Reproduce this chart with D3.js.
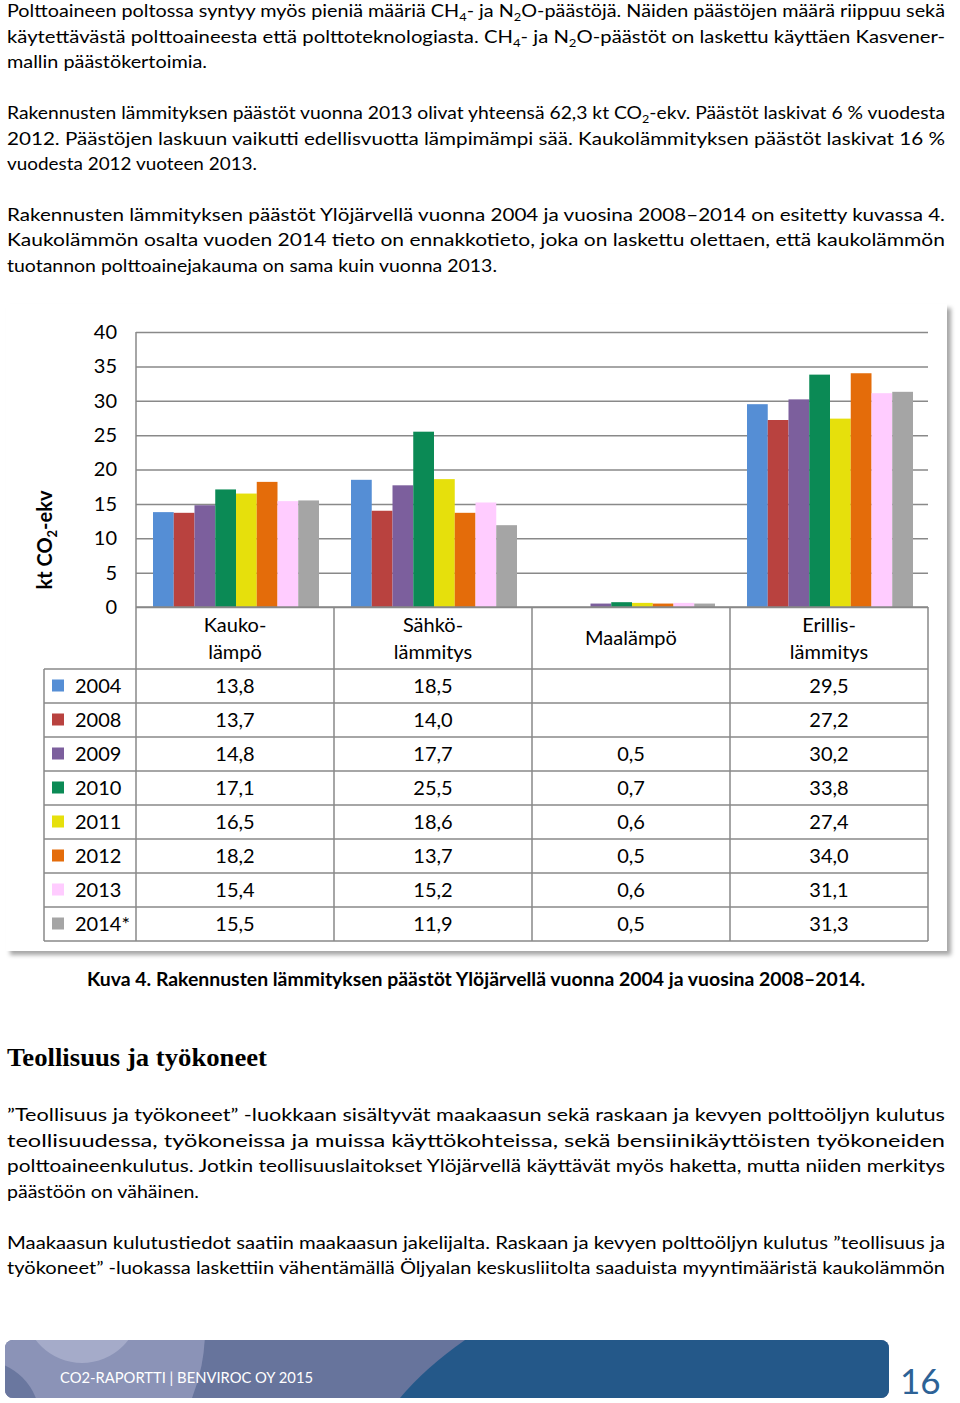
<!DOCTYPE html>
<html>
<head>
<meta charset="utf-8">
<script src="https://cdn.jsdelivr.net/npm/d3@7"></script>
<style>
  body { margin: 0; background: #fff; }
  svg text { font-family: Lato, "Open Sans", sans-serif; fill: #000; }
</style>
</head>
<body>
<div id="page"></div>
<script>
(function(){

// chart data
var categories = ["Kaukolämpö", "Sähkölämmitys", "Maalämpö", "Erillislämmitys"];
var categoryLines = [["Kauko-", "lämpö"], ["Sähkö-", "lämmitys"], ["Maalämpö"], ["Erillis-", "lämmitys"]];
var years = ["2004", "2008", "2009", "2010", "2011", "2012", "2013", "2014*"];
var yearColors = ["#558ED5", "#B9423F", "#7C5F9D", "#0B8A55", "#E6E00C", "#E46C0A", "#FFCCFF", "#A5A5A5"];
var kaukolampo = [13.8, 13.7, 14.8, 17.1, 16.5, 18.2, 15.4, 15.5];
var sahkolammitys = [18.5, 14.0, 17.7, 25.5, 18.6, 13.7, 15.2, 11.9];
var maalampo = [null, null, 0.5, 0.7, 0.6, 0.5, 0.6, 0.5];
var erillislammitys = [29.5, 27.2, 30.2, 33.8, 27.4, 34.0, 31.1, 31.3];
var yTicks = [0, 5, 10, 15, 20, 25, 30, 35, 40];

var seriesByCategory = [kaukolampo, sahkolammitys, maalampo, erillislammitys];

var W = 960, H = 1403;

var svg = d3.select("#page").append("svg")
    .attr("width", W)
    .attr("height", H);

var defs = svg.append("defs");
var shadow = defs.append("filter").attr("id", "shadow")
    .attr("x", "-5%").attr("y", "-5%").attr("width", "110%").attr("height", "110%");
shadow.append("feDropShadow")
    .attr("dx", 4).attr("dy", 4).attr("stdDeviation", 2)
    .attr("flood-color", "#000").attr("flood-opacity", 0.35);

// one line of text; subscripts written as {4}
function textLine(g, str, x, y, width, opts) {
  opts = opts || {};
  var size = opts.size || 18;
  var t = g.append("text")
      .attr("x", x)
      .attr("y", y)
      .attr("font-size", size)
      .attr("font-weight", opts.weight || "normal");
  if (opts.family) t.style("font-family", opts.family);
  var parts = str.split(/(\{[^}]*\})/);
  var back = 0;
  parts.forEach(function(p){
    if (!p) return;
    if (p[0] === "{") {
      t.append("tspan").attr("font-size", size * 0.65).attr("dy", 4).text(p.slice(1, -1));
      back = -4;
    } else {
      var s = t.append("tspan").text(p);
      if (back) { s.attr("dy", back); back = 0; }
    }
  });
  if (width) t.attr("textLength", width).attr("lengthAdjust", "spacingAndGlyphs");
  return t;
}

var body = svg.append("g");
var textLines = [
  ["Polttoaineen poltossa syntyy myös pieniä määriä CH{4}- ja N{2}O-päästöjä. Näiden päästöjen määrä riippuu sekä", 17, 938],
  ["käytettävästä polttoaineesta että polttoteknologiasta. CH{4}- ja N{2}O-päästöt on laskettu käyttäen Kasvener-", 42.5, 938],
  ["mallin päästökertoimia.", 68, 200],
  ["Rakennusten lämmityksen päästöt vuonna 2013 olivat yhteensä 62,3 kt CO{2}-ekv. Päästöt laskivat 6 % vuodesta", 119, 938],
  ["2012. Päästöjen laskuun vaikutti edellisvuotta lämpimämpi sää. Kaukolämmityksen päästöt laskivat 16 %", 144.5, 938],
  ["vuodesta 2012 vuoteen 2013.", 170, 250],
  ["Rakennusten lämmityksen päästöt Ylöjärvellä vuonna 2004 ja vuosina 2008–2014 on esitetty kuvassa 4.", 220.5, 938],
  ["Kaukolämmön osalta vuoden 2014 tieto on ennakkotieto, joka on laskettu olettaen, että kaukolämmön", 246, 938],
  ["tuotannon polttoainejakauma on sama kuin vuonna 2013.", 271.5, 490],
  ["”Teollisuus ja työkoneet” -luokkaan sisältyvät maakaasun sekä raskaan ja kevyen polttoöljyn kulutus", 1121, 938],
  ["teollisuudessa, työkoneissa ja muissa käyttökohteissa, sekä bensiinikäyttöisten työkoneiden", 1146.5, 938],
  ["polttoaineenkulutus. Jotkin teollisuuslaitokset Ylöjärvellä käyttävät myös haketta, mutta niiden merkitys", 1172, 938],
  ["päästöön on vähäinen.", 1197.5, 192],
  ["Maakaasun kulutustiedot saatiin maakaasun jakelijalta. Raskaan ja kevyen polttoöljyn kulutus ”teollisuus ja", 1248.5, 938],
  ["työkoneet” -luokassa laskettiin vähentämällä Öljyalan keskusliitolta saaduista myyntimääristä kaukolämmön", 1274, 938]
];
textLines.forEach(function(l){ textLine(body, l[0], 7, l[1], l[2]); });

// caption and heading
textLine(body, "Kuva 4. Rakennusten lämmityksen päästöt Ylöjärvellä vuonna 2004 ja vuosina 2008–2014.", 87, 986, 778, {weight: "bold"});
textLine(body, "Teollisuus ja työkoneet", 7, 1066, 260, {weight: "bold", size: 26, family: "'Liberation Serif', 'DejaVu Serif', serif"});

// chart frame with shadow
svg.append("rect")
    .attr("x", 6).attr("y", 304)
    .attr("width", 941).attr("height", 647)
    .attr("fill", "#fff")
    .attr("filter", "url(#shadow)");

var plot = {left: 136, right: 928, top: 332, bottom: 607};
var tableLeft = 44, headerBottom = 669, rowH = 34;
var gridColor = "#898989";

var x0 = d3.scaleBand()
    .domain(categories)
    .range([plot.left, plot.right])
    .padding(0);

var groupPad = 16;
var x1 = d3.scaleBand()
    .domain(years)
    .range([groupPad + 1, x0.bandwidth() - groupPad + 1])
    .padding(0);

var y = d3.scaleLinear()
    .domain([0, 40])
    .range([plot.bottom, plot.top]);

var chart = svg.append("g");

// gridlines
chart.append("g")
    .attr("transform", "translate(" + plot.left + ",0)")
    .call(d3.axisLeft(y).tickValues(yTicks).tickSize(-(plot.right - plot.left)).tickFormat(""))
    .call(function(g){ g.select(".domain").remove(); })
    .selectAll("line")
      .attr("stroke", gridColor)
      .attr("stroke-width", 1.5);

// tick labels
var yAxis = chart.append("g")
    .attr("transform", "translate(" + plot.left + ",0)")
    .call(d3.axisLeft(y).tickValues(yTicks).tickSize(0).tickPadding(19));
yAxis.select(".domain").remove();
yAxis.selectAll("text")
    .attr("font-size", 20)
    .style("font-family", "Lato, sans-serif")
    .attr("fill", "#000");

// left axis line
chart.append("line")
    .attr("x1", plot.left).attr("x2", plot.left)
    .attr("y1", y(40)).attr("y2", y(0))
    .attr("stroke", gridColor).attr("stroke-width", 1.5);

// y title
var yTitle = chart.append("text")
    .attr("transform", "translate(52,540) rotate(-90)")
    .attr("text-anchor", "middle")
    .attr("font-size", 20)
    .attr("font-weight", "bold");
yTitle.append("tspan").text("kt CO");
yTitle.append("tspan").attr("font-size", 13).attr("dy", 5).text("2");
yTitle.append("tspan").attr("dy", -5).text("-ekv");

// bars
var groups = chart.selectAll("g.cat")
    .data(categories)
    .enter()
    .append("g")
      .attr("class", "cat")
      .attr("transform", function(d){ return "translate(" + x0(d) + ",0)"; });

groups.selectAll("rect")
    .data(function(d, i){
      return years.map(function(yr, j){ return {year: yr, value: seriesByCategory[i][j], color: yearColors[j]}; })
        .filter(function(e){ return e.value != null; });
    })
    .enter()
    .append("rect")
      .attr("x", function(d){ return x1(d.year); })
      .attr("y", function(d){ return y(d.value); })
      .attr("width", x1.bandwidth())
      .attr("height", function(d){ return y(0) - y(d.value); })
      .attr("fill", function(d){ return d.color; });

// data table
var table = svg.append("g");
var tableBottom = headerBottom + rowH * years.length;
var lineAttrs = function(sel){ sel.attr("stroke", gridColor).attr("stroke-width", 1.5); };

// baseline over bars
table.append("line")
    .attr("x1", plot.left).attr("x2", plot.right)
    .attr("y1", y(0)).attr("y2", y(0))
    .call(lineAttrs);

// vertical separators
var vx = categories.map(function(c){ return x0(c); }).concat([plot.right]);
table.selectAll("line.v")
    .data(vx)
    .enter()
    .append("line")
      .attr("class", "v")
      .attr("x1", function(d){ return d; }).attr("x2", function(d){ return d; })
      .attr("y1", y(0)).attr("y2", tableBottom)
      .call(lineAttrs);
table.append("line")
    .attr("x1", tableLeft).attr("x2", tableLeft)
    .attr("y1", headerBottom).attr("y2", tableBottom)
    .call(lineAttrs);

// horizontal rows
table.selectAll("line.h")
    .data(d3.range(years.length + 1))
    .enter()
    .append("line")
      .attr("class", "h")
      .attr("x1", tableLeft).attr("x2", plot.right)
      .attr("y1", function(i){ return headerBottom + i * rowH; })
      .attr("y2", function(i){ return headerBottom + i * rowH; })
      .call(lineAttrs);

// header labels
categories.forEach(function(c, i){
  var lines = categoryLines[i];
  var cx = x0(c) + x0.bandwidth() / 2;
  var startY = lines.length === 1 ? 645 : 632;
  lines.forEach(function(l, k){
    table.append("text")
        .attr("x", cx)
        .attr("y", startY + k * 27)
        .attr("text-anchor", "middle")
        .attr("font-size", 20)
        .text(l);
  });
});

var fmt = function(v){ return d3.format(".1f")(v).replace(".", ","); };

// rows
years.forEach(function(yr, j){
  var cy = headerBottom + j * rowH + rowH / 2;
  table.append("rect")
      .attr("x", 52).attr("y", cy - 6.5)
      .attr("width", 12).attr("height", 12)
      .attr("fill", yearColors[j]);
  table.append("text")
      .attr("x", 75).attr("y", cy + 7)
      .attr("font-size", 20)
      .text(yr);
  categories.forEach(function(c, i){
    var v = seriesByCategory[i][j];
    if (v == null) return;
    table.append("text")
        .attr("x", x0(c) + x0.bandwidth() / 2)
        .attr("y", cy + 7)
        .attr("text-anchor", "middle")
        .attr("font-size", 20)
        .text(fmt(v));
  });
});

// footer band
var footClip = defs.append("clipPath").attr("id", "footclip");
footClip.append("rect")
    .attr("x", 5).attr("y", 1340).attr("width", 884).attr("height", 58)
    .attr("rx", 8).attr("ry", 8);
var foot = svg.append("g").attr("clip-path", "url(#footclip)");
foot.append("rect").attr("x", 5).attr("y", 1340).attr("width", 884).attr("height", 58).attr("fill", "#67749c");
foot.append("circle").attr("cx", 20).attr("cy", 1330).attr("r", 185).attr("fill", "#8b93b7");
foot.append("circle").attr("cx", 82).attr("cy", 1305).attr("r", 58).attr("fill", "#a5abc9");
foot.append("circle").attr("cx", -20).attr("cy", 1420).attr("r", 60).attr("fill", "#6a779f");
foot.append("path")
    .attr("d", "M465,1340 Q425,1368 400,1398 L889,1398 L889,1340 Z")
    .attr("fill", "#245889");

textLine(svg, "CO2-RAPORTTI | BENVIROC OY 2015", 60, 1383, 253, {size: 15}).style("fill", "#fff");
svg.append("text")
    .attr("x", 900).attr("y", 1394)
    .attr("font-size", 35)
    .style("fill", "#2d6296")
    .text("16");

})();
</script>
</body>
</html>
